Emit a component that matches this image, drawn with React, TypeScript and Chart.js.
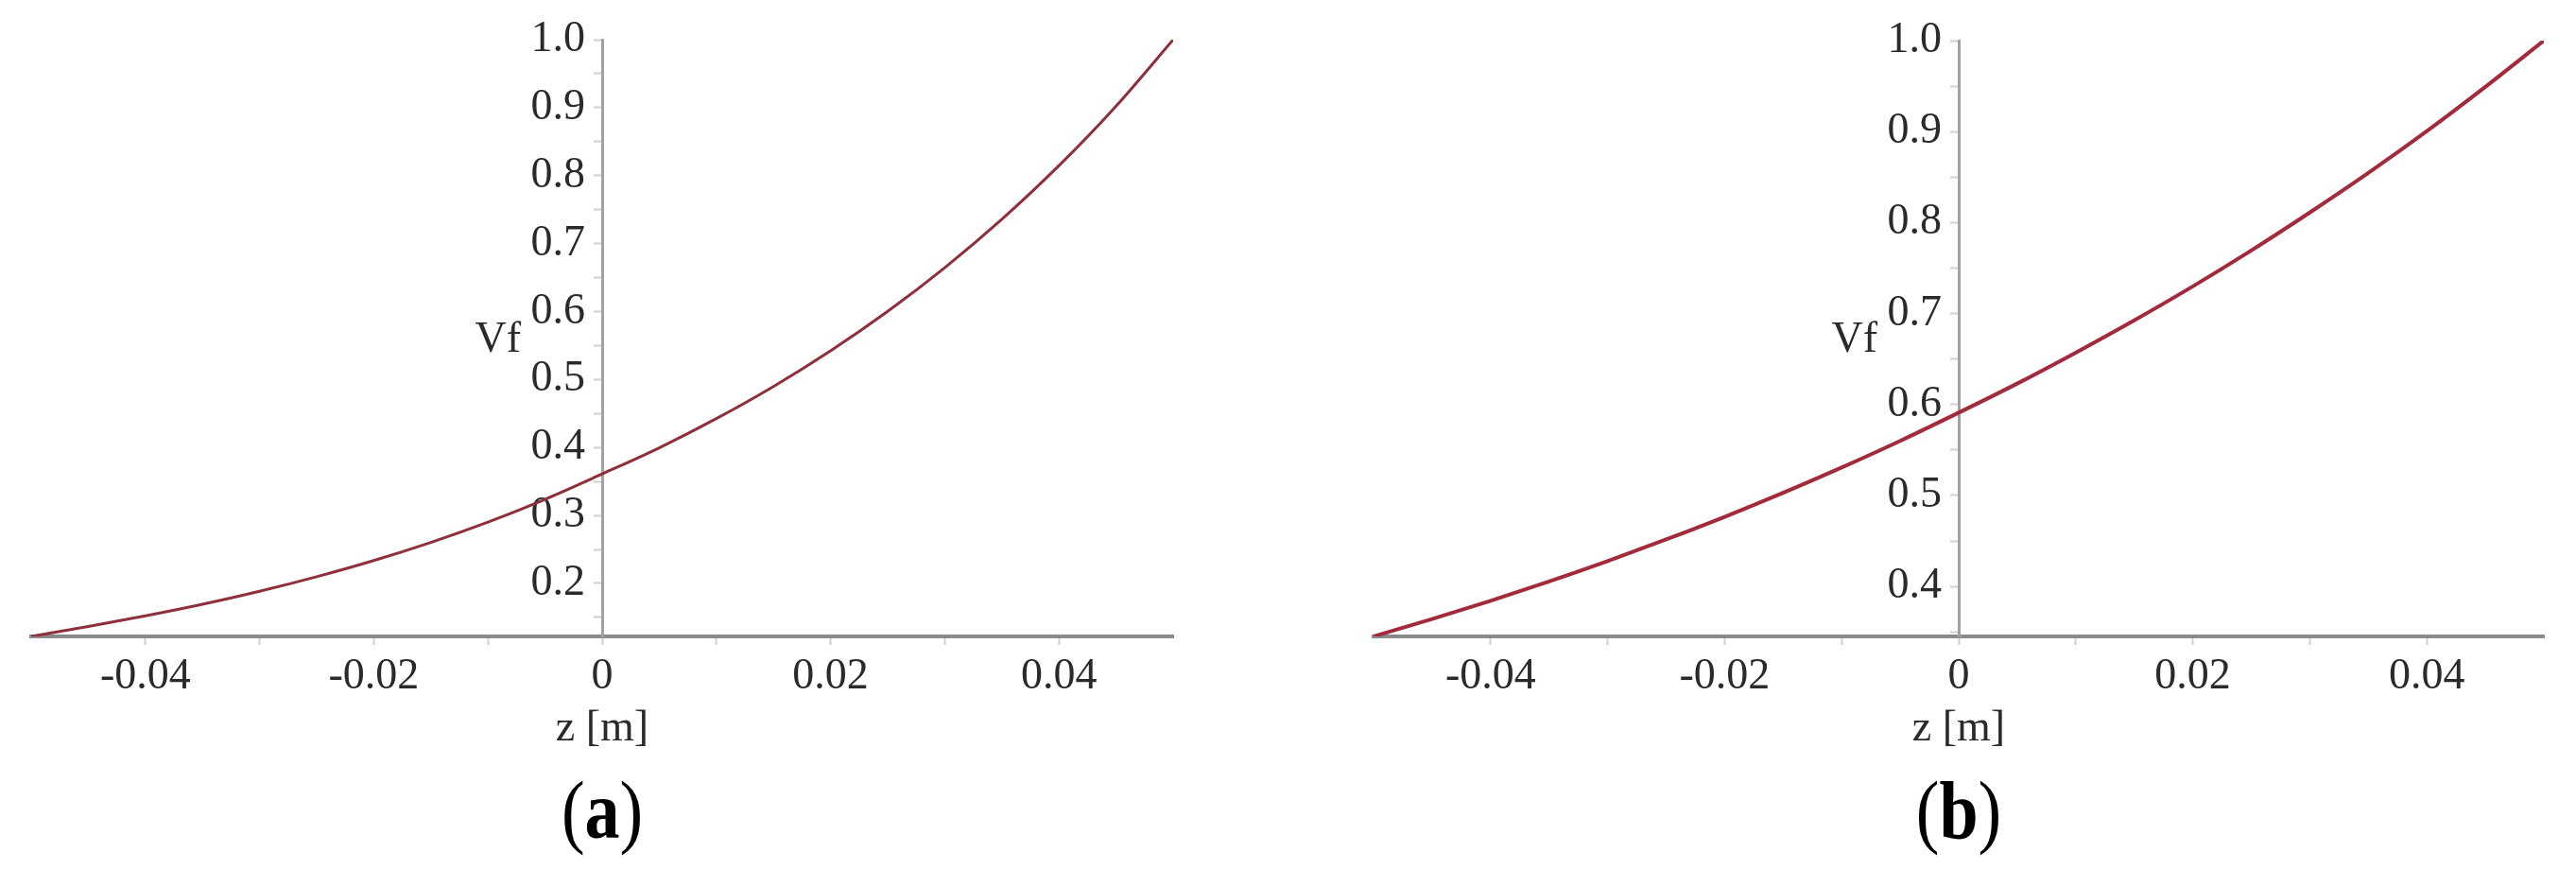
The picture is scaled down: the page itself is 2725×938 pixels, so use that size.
import React, { useEffect, useRef } from 'react';
import { Chart, registerables } from 'chart.js';

Chart.register(...registerables);

// z positions [m]
const Z = [-0.05, -0.045, -0.04, -0.035, -0.03, -0.025, -0.02, -0.015, -0.01, -0.005, 0,
  0.005, 0.01, 0.015, 0.02, 0.025, 0.03, 0.035, 0.04, 0.045, 0.05];

// Vf
const VF_A = [0.122, 0.1365, 0.1522, 0.1693, 0.1884, 0.2098, 0.2336, 0.2603, 0.2902, 0.3237, 0.361,
  0.3995, 0.4425, 0.4898, 0.5422, 0.6003, 0.6646, 0.7358, 0.8147, 0.9023, 1.0];

// Vf
const VF_B = [0.345, 0.3641, 0.3842, 0.4055, 0.4279, 0.4516, 0.4765, 0.5029, 0.5307, 0.56, 0.591,
  0.623, 0.657, 0.6925, 0.7298, 0.7693, 0.811, 0.8545, 0.9005, 0.9492, 1.0];

const X_TICKS = [-0.04, -0.03, -0.02, -0.01, 0, 0.01, 0.02, 0.03, 0.04];
const X_LABELED = [-0.04, -0.02, 0, 0.02, 0.04];

const Y_TICKS_A = [0.15, 0.2, 0.25, 0.3, 0.35, 0.4, 0.45, 0.5, 0.55, 0.6, 0.65, 0.7, 0.75, 0.8, 0.85, 0.9, 0.95, 1.0];
const Y_TICKS_B = [0.35, 0.4, 0.45, 0.5, 0.55, 0.6, 0.65, 0.7, 0.75, 0.8, 0.85, 0.9, 0.95, 1.0];
const Y_LABELED = [0.2, 0.3, 0.4, 0.5, 0.6, 0.7, 0.8, 0.9, 1.0];

const X_RANGE = [-0.05, 0.05];
const Y_RANGE_A = [0.122, 1.0];
const Y_RANGE_B = [0.345, 1.0];

const FONT = '"Liberation Serif", "Times New Roman", serif';
const TEXT = '#2a2a2a';
const Y_LABEL_GAP = 18;

const near = (v: number, list: number[]) => list.some((t) => Math.abs(t - v) < 1e-6);

// y-axis sits at z = 0; move its labels a little off the axis line
const yLabelGap = {
  id: 'yLabelGap',
  beforeDraw(chart: any) {
    const ys = chart.scales.y;
    if (!ys || !ys.getLabelItems) return;
    const items = ys.getLabelItems();
    if (items && !items.__shifted) {
      items.forEach((it: any) => {
        if (it.options && it.options.translation) it.options.translation[0] -= Y_LABEL_GAP;
      });
      items.__shifted = true;
    }
  },
};

const vfLabel = {
  id: 'vfLabel',
  afterDraw(chart: any) {
    const { ctx, chartArea, scales } = chart;
    const x0 = scales.x.getPixelForValue(0);
    ctx.save();
    ctx.font = `46px ${FONT}`;
    ctx.fillStyle = TEXT;
    ctx.textAlign = 'right';
    ctx.textBaseline = 'middle';
    ctx.fillText('Vf', x0 - 86, (chartArea.top + chartArea.bottom) / 2 + 2);
    ctx.restore();
  },
};

type PanelProps = {
  left: number;
  width: number;
  height: number;
  padding: { left: number; right: number; top: number; bottom: number };
  values: number[];
  yRange: number[];
  yTicks: number[];
  color: string;
  lineWidth: number;
};

function Panel(p: PanelProps) {
  const ref = useRef<HTMLCanvasElement | null>(null);
  useEffect(() => {
    if (!ref.current) return;
    const chart = new Chart(ref.current, {
      type: 'line',
      data: {
        datasets: [
          {
            data: Z.map((z, i) => ({ x: z, y: p.values[i] })),
            borderColor: p.color,
            borderWidth: p.lineWidth,
            pointRadius: 0,
            cubicInterpolationMode: 'monotone',
            fill: false,
          },
        ],
      },
      options: {
        animation: false,
        responsive: false,
        devicePixelRatio: 1,
        layout: { padding: p.padding },
        plugins: { legend: { display: false }, tooltip: { enabled: false }, title: { display: false } },
        scales: {
          x: {
            type: 'linear',
            position: 'bottom',
            min: X_RANGE[0],
            max: X_RANGE[1],
            afterBuildTicks: (scale: any) => {
              scale.ticks = X_TICKS.map((v) => ({ value: v }));
            },
            afterFit: (scale: any) => {
              scale.height = 126;
            },
            ticks: {
              autoSkip: false,
              maxRotation: 0,
              padding: 6,
              color: TEXT,
              font: { family: FONT, size: 46 },
              callback: (v: any) => {
                const n = Number(v);
                if (!near(n, X_LABELED)) return '';
                return Math.abs(n) < 1e-9 ? '0' : n.toFixed(2);
              },
            },
            grid: { drawOnChartArea: false, drawTicks: true, tickLength: 9, tickColor: '#cfcfcf', tickWidth: 2 },
            border: { display: true, color: '#8a8a8a', width: 4 },
            title: { display: true, text: 'z [m]', color: TEXT, font: { family: FONT, size: 46 }, padding: 0 },
          },
          y: {
            type: 'linear',
            position: { x: 0 } as any,
            min: p.yRange[0],
            max: p.yRange[1],
            afterBuildTicks: (scale: any) => {
              scale.ticks = p.yTicks.map((v) => ({ value: v }));
            },
            ticks: {
              autoSkip: false,
              padding: 10,
              color: TEXT,
              font: { family: FONT, size: 46 },
              callback: (v: any) => {
                const n = Number(v);
                return near(n, Y_LABELED) ? n.toFixed(1) : '';
              },
            },
            grid: { drawOnChartArea: false, drawTicks: true, tickLength: 8, tickColor: '#cfcfcf', tickWidth: 2 },
            border: { display: true, color: '#a0a0a0', width: 3 },
          },
        },
      } as any,
      plugins: [yLabelGap, vfLabel],
    });
    return () => chart.destroy();
  }, []);
  return (
    <canvas
      ref={ref}
      width={p.width}
      height={p.height}
      style={{ position: 'absolute', left: p.left, top: 0, width: p.width, height: p.height }}
    />
  );
}

function Caption({ x, letter }: { x: number; letter: string }) {
  return (
    <div
      style={{
        position: 'absolute',
        left: x,
        top: 814,
        fontFamily: FONT,
        fontSize: 86,
        lineHeight: 1,
        color: '#000',
        whiteSpace: 'nowrap',
        transform: 'translateX(-50%) scaleX(0.86)',
      }}
    >
      (<b>{letter}</b>)
    </div>
  );
}

export default function App() {
  return (
    <div style={{ position: 'absolute', left: 0, top: 0, width: 2725, height: 938, background: '#fff', overflow: 'hidden' }}>
      <Panel
        left={0}
        width={1290}
        height={820}
        padding={{ left: 33, right: 49, top: 42, bottom: 21 }}
        values={VF_A}
        yRange={Y_RANGE_A}
        yTicks={Y_TICKS_A}
        color="#8f2f3c"
        lineWidth={3}
      />
      <Panel
        left={1380}
        width={1345}
        height={820}
        padding={{ left: 73, right: 34, top: 43, bottom: 21 }}
        values={VF_B}
        yRange={Y_RANGE_B}
        yTicks={Y_TICKS_B}
        color="#a32a3a"
        lineWidth={4}
      />
      <Caption x={637} letter="a" />
      <Caption x={2072} letter="b" />
    </div>
  );
}
